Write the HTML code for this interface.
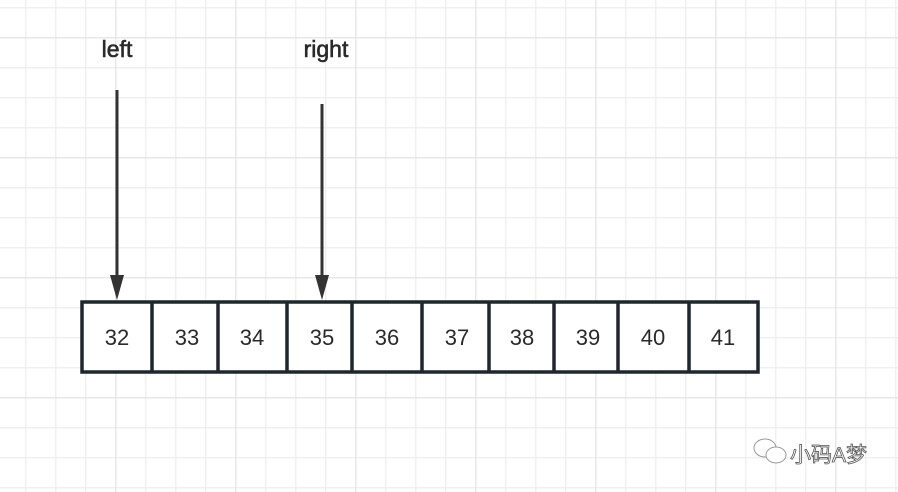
<!DOCTYPE html>
<html><head><meta charset="utf-8"><style>
html,body{margin:0;padding:0;background:#fff;}
svg{display:block}
text{font-family:"Liberation Sans","Noto Sans CJK SC",sans-serif;}
</style></head><body>
<svg width="898" height="492" viewBox="0 0 898 492" xmlns="http://www.w3.org/2000/svg">
<defs>
<pattern id="g" x="25" y="7" width="30" height="30" patternUnits="userSpaceOnUse">
<path d="M0 0V30M0 0H30" stroke="#f0f0f0" stroke-width="3" fill="none"/>
</pattern>
<pattern id="G" x="115" y="37" width="120" height="120" patternUnits="userSpaceOnUse">
<path d="M0 0V120M0 0H120" stroke="#e8e8e8" stroke-width="3" fill="none"/>
</pattern>
</defs>
<rect width="898" height="492" fill="url(#g)"/>
<rect width="898" height="492" fill="url(#G)"/>
<text x="117" y="57" font-size="23" text-anchor="middle" fill="#2a2a2a" stroke="#2a2a2a" stroke-width="0.6">left</text>
<text x="326" y="57" font-size="23" text-anchor="middle" fill="#2a2a2a" stroke="#2a2a2a" stroke-width="0.6">right</text>
<line x1="117" y1="90" x2="117" y2="278" stroke="#333" stroke-width="3"/>
<polygon points="110,275 124,275 117,300" fill="#333"/>
<line x1="322" y1="104" x2="322" y2="278" stroke="#333" stroke-width="3"/>
<polygon points="315,275 329,275 322,300" fill="#333"/>
<rect x="82" y="302" width="676" height="70" fill="#fff" stroke="#1e272e" stroke-width="3.5"/>
<g stroke="#1e272e" stroke-width="3.5">
<line x1="152" y1="302" x2="152" y2="372"/><line x1="218" y1="302" x2="218" y2="372"/>
<line x1="287" y1="302" x2="287" y2="372"/><line x1="352" y1="302" x2="352" y2="372"/>
<line x1="422" y1="302" x2="422" y2="372"/><line x1="489" y1="302" x2="489" y2="372"/>
<line x1="554" y1="302" x2="554" y2="372"/><line x1="618" y1="302" x2="618" y2="372"/>
<line x1="689" y1="302" x2="689" y2="372"/>
</g>
<g font-size="22" fill="#2a2a2a" text-anchor="middle">
<text x="117" y="345">32</text><text x="187" y="345">33</text><text x="252" y="345">34</text>
<text x="322" y="345">35</text><text x="387" y="345">36</text><text x="457" y="345">37</text>
<text x="522" y="345">38</text><text x="588" y="345">39</text><text x="653" y="345">40</text>
<text x="723" y="345">41</text>
</g>
<g fill="none" stroke="#999" stroke-width="1">
<ellipse cx="765" cy="448" rx="11" ry="9"/>
<ellipse cx="776" cy="455" rx="10" ry="8" fill="#fff"/>
</g>
<text x="790" y="462" font-size="21" fill="#fff" stroke="#555" stroke-width="0.8">小码A梦</text>
</svg>
</body></html>
